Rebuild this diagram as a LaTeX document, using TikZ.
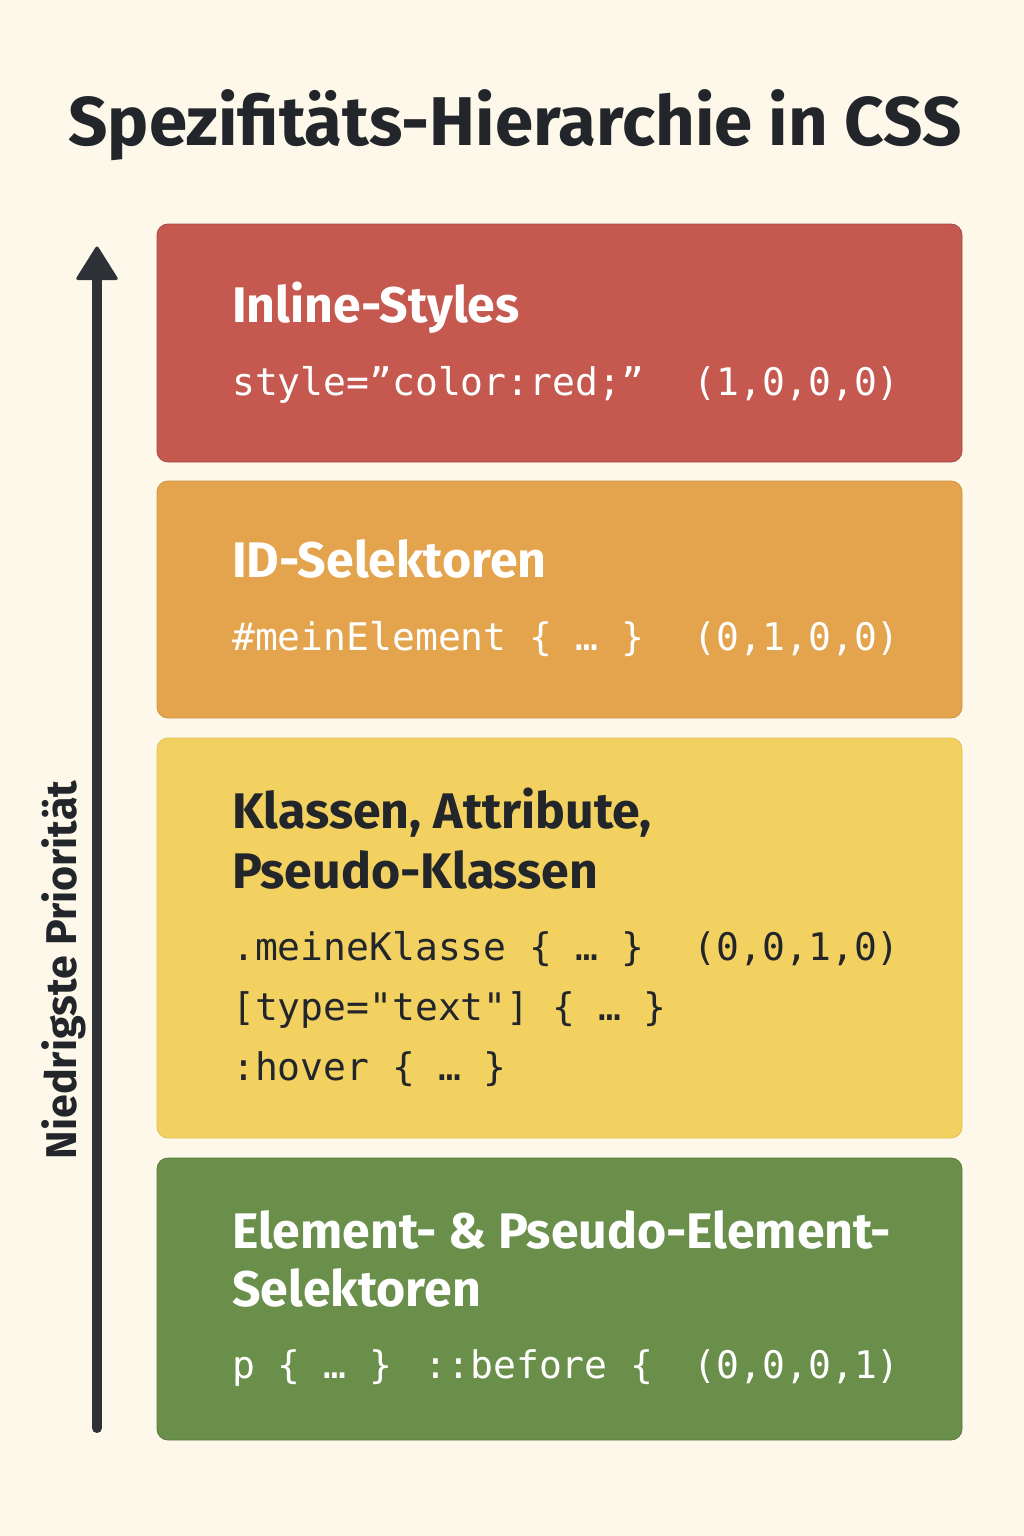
\documentclass[tikz,border=0pt]{standalone}
\usepackage{fontspec}
\setmainfont{Fira Sans}
\setsansfont{Fira Sans}
\setmonofont{DejaVu Sans Mono}
\definecolor{paper}{HTML}{FDF8EA}
\definecolor{ink}{HTML}{22262B}
\definecolor{arrowc}{HTML}{2E3136}
\definecolor{redbox}{HTML}{C5594F}
\definecolor{orangebox}{HTML}{E4A44E}
\definecolor{yellowbox}{HTML}{F2D160}
\definecolor{greenbox}{HTML}{6A8F4A}
\begin{document}
\begin{tikzpicture}[x=1pt,y=-1pt,
  tier/.style={rounded corners=11pt, line width=0.8pt},
  heading/.style={anchor=base west, inner sep=0pt, font=\fontsize{50}{60}\selectfont\bfseries},
  code/.style={anchor=base west, inner sep=0pt, font=\fontsize{38}{46}\ttfamily},
  spec/.style={anchor=base east, inner sep=0pt, font=\fontsize{38}{46}\ttfamily}]
  \useasboundingbox (0,0) rectangle (1024,1536);
  \fill[paper] (0,0) rectangle (1024,1536);

  % title
  \node[anchor=base, inner sep=0pt, text=ink, font=\fontsize{69}{80}\selectfont\bfseries]
    (title) at (515,146) {Spezifitäts-Hierarchie in CSS};

  % priority axis
  \coordinate (axbot) at (97,1428);
  \coordinate (axtop) at (97,278);
  \draw[arrowc, line width=10pt, line cap=round] (axbot) -- (axtop);
  \fill[arrowc, rounded corners=3pt] (97,245) -- (119,280) -- (75,280) -- cycle;
  \node[rotate=90, anchor=base, inner sep=0pt, text=ink, font=\fontsize{43}{50}\selectfont\bfseries]
    (axlabel) at (76,970) {Niedrigste Priorität};

  % tier boxes
  \draw[tier, fill=redbox, draw=redbox!85!black] (157,224) rectangle (962,462);
  \draw[tier, fill=orangebox, draw=orangebox!90!black] (157,481) rectangle (962,718);
  \draw[tier, fill=yellowbox, draw=yellowbox!92!black] (157,738) rectangle (962,1138);
  \draw[tier, fill=greenbox, draw=greenbox!85!black] (157,1158) rectangle (962,1440);

  % inline styles
  \node[heading, text=white] (h1) at (232,322) {Inline-Styles};
  \node[code, text=white] (c1) at (232,395) {style=”color:red;”};
  \node[spec, text=white] (s1) at (900,395) {(1,0,0,0)};

  % id selectors
  \node[heading, text=white] (h2) at (232,577) {ID-Selektoren};
  \node[code, text=white] (c2) at (232,650) {\#meinElement \{ … \}};
  \node[spec, text=white] (s2) at (900,650) {(0,1,0,0)};

  % classes, attributes, pseudo-classes
  \node[heading, text=ink] (h3a) at (232,828) {Klassen, Attribute,};
  \node[heading, text=ink] (h3b) at (232,888) {Pseudo-Klassen};
  \node[code, text=ink] (c3a) at (232,960) {.meineKlasse \{ … \}};
  \node[spec, text=ink] (s3) at (900,960) {(0,0,1,0)};
  \node[code, text=ink] (c3b) at (232,1020) {[type="text"] \{ … \}};
  \node[code, text=ink] (c3c) at (232,1080) {:hover \{ … \}};

  % elements and pseudo-elements
  \node[heading, text=white] (h4a) at (232,1248) {Element- \& Pseudo-Element-};
  \node[heading, text=white] (h4b) at (232,1306) {Selektoren};
  \node[code, text=white] (c4) at (232,1378) {p \{ … \}\hspace{0.85em}::before \{};
  \node[spec, text=white] (s4) at (900,1378) {(0,0,0,1)};
\end{tikzpicture}
\end{document}
